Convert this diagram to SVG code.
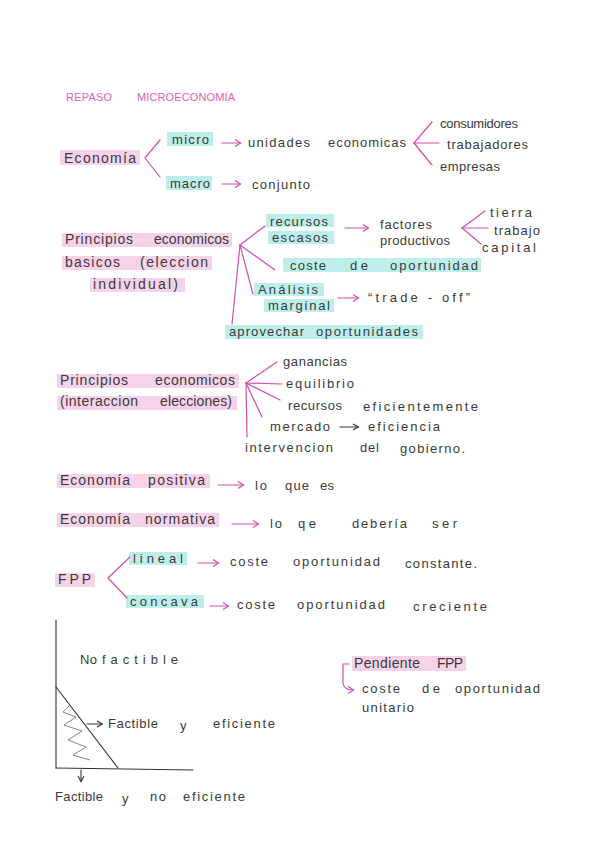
<svg xmlns="http://www.w3.org/2000/svg" width="600" height="848" viewBox="0 0 600 848">
<style>
text{font-family:"Liberation Sans","DejaVu Sans",sans-serif;font-size:13px;fill:#3a3a3a}
.t{fill:#e060b4;font-size:11px}
.big{font-size:14px}
.hp{fill:#f7d3ea}
.hc{fill:#bdeeea}
.pk{fill:none;stroke:#d64cb2;stroke-width:1.2;stroke-linecap:round;stroke-linejoin:round}
.bk{fill:none;stroke:#333;stroke-width:1.1;stroke-linecap:round}
.ar{marker-end:url(#ah)}
.arb{marker-end:url(#ahb)}
</style>
<defs>
<marker id="ah" markerWidth="8" markerHeight="8" refX="6" refY="4" orient="auto" markerUnits="userSpaceOnUse"><path d="M1,0.5 L6.5,4 L1,7.5" fill="none" stroke="#d64cb2" stroke-width="1.2"/></marker>
<marker id="ahb" markerWidth="8" markerHeight="8" refX="6" refY="4" orient="auto" markerUnits="userSpaceOnUse"><path d="M1,1 L6.5,4 L1,7" fill="none" stroke="#333" stroke-width="1.1"/></marker>
</defs>
<rect width="600" height="848" fill="#ffffff"/>

<g id="title">
<text class="t" x="66" y="101" textLength="46" lengthAdjust="spacing">REPASO</text>
<text class="t" x="137" y="101" textLength="98" lengthAdjust="spacing">MICROECONOMÍA</text>
</g>

<g id="highlights">
<rect class="hp" x="60" y="150" width="80" height="15"/>
<rect class="hc" x="167" y="132" width="46" height="14"/>
<rect class="hc" x="166" y="176" width="46" height="14"/>
<rect class="hp" x="62" y="233" width="170" height="14"/>
<rect class="hp" x="62" y="256" width="150" height="14"/>
<rect class="hp" x="90" y="278" width="95" height="14"/>
<rect class="hc" x="266" y="214" width="68" height="13"/>
<rect class="hc" x="268" y="231" width="66" height="13"/>
<rect class="hc" x="283" y="258" width="198" height="14"/>
<rect class="hc" x="254" y="283" width="70" height="13"/>
<rect class="hc" x="264" y="299" width="70" height="13"/>
<rect class="hc" x="225" y="325" width="198" height="14"/>
<rect class="hp" x="57" y="374" width="182" height="14"/>
<rect class="hp" x="57" y="396" width="180" height="14"/>
<rect class="hp" x="57" y="474" width="153" height="14"/>
<rect class="hp" x="57" y="513" width="162" height="14"/>
<rect class="hp" x="55" y="573" width="40" height="14"/>
<rect class="hc" x="129" y="552" width="58" height="13"/>
<rect class="hc" x="126" y="595" width="78" height="13"/>
<rect class="hp" x="352" y="656" width="114" height="15"/>
</g>

<g id="connectors">
<polyline class="pk" points="160,140 145,158 160,177"/>
<line class="pk ar" x1="222" y1="143" x2="240" y2="143"/>
<line class="pk ar" x1="222" y1="184" x2="240" y2="184"/>
<line class="pk" x1="414" y1="143" x2="432" y2="122"/>
<line class="pk" x1="414" y1="143" x2="439" y2="143"/>
<line class="pk" x1="414" y1="143" x2="432" y2="165"/>
<line class="pk" x1="240" y1="245" x2="265" y2="226"/>
<line class="pk" x1="240" y1="245" x2="275" y2="270"/>
<line class="pk" x1="240" y1="245" x2="253" y2="294"/>
<line class="pk" x1="240" y1="245" x2="232" y2="324"/>
<line class="pk ar" x1="345" y1="228" x2="368" y2="228"/>
<line class="pk" x1="462" y1="228" x2="485" y2="211"/>
<line class="pk" x1="462" y1="228" x2="488" y2="228"/>
<line class="pk" x1="462" y1="228" x2="481" y2="244"/>
<line class="pk ar" x1="338" y1="298" x2="358" y2="298"/>
<line class="pk" x1="246" y1="383" x2="277" y2="362"/>
<line class="pk" x1="246" y1="383" x2="282" y2="384"/>
<line class="pk" x1="246" y1="383" x2="280" y2="400"/>
<line class="pk" x1="246" y1="383" x2="262" y2="417"/>
<line class="pk" x1="246" y1="383" x2="247" y2="437"/>
<line class="bk arb" x1="340" y1="427" x2="358" y2="427"/>
<line class="pk ar" x1="218" y1="485" x2="243" y2="485"/>
<line class="pk ar" x1="232" y1="524" x2="258" y2="524"/>
<polyline class="pk" points="130,557 108,578 127,598"/>
<line class="pk ar" x1="198" y1="563" x2="218" y2="563"/>
<line class="pk ar" x1="210" y1="606" x2="228" y2="606"/>
<path class="pk ar" d="M349,664 L343,664 L343,683 Q344,690 353,690"/>
</g>

<g id="economia"><text class="big" x="64" y="163" textLength="72" lengthAdjust="spacing">Economía</text></g>
<g id="micro"><text x="172" y="144" textLength="37" lengthAdjust="spacing">micro</text></g>
<g id="unidades"><text x="248" y="147" textLength="62" lengthAdjust="spacing">unidades</text><text x="328" y="147" textLength="78" lengthAdjust="spacing">economicas</text></g>
<g id="consumidores"><text x="440" y="128" textLength="78" lengthAdjust="spacing">consumidores</text></g>
<g id="trabajadores"><text x="447" y="149" textLength="81" lengthAdjust="spacing">trabajadores</text></g>
<g id="empresas"><text x="440" y="171" textLength="60" lengthAdjust="spacing">empresas</text></g>
<g id="macro"><text x="170" y="188" textLength="40" lengthAdjust="spacing">macro</text></g>
<g id="conjunto"><text x="252" y="189" textLength="58" lengthAdjust="spacing">conjunto</text></g>

<g id="principios-basicos">
<text class="big" x="65" y="244" textLength="68" lengthAdjust="spacing">Principios</text>
<text class="big" x="154" y="244" textLength="75" lengthAdjust="spacing">economicos</text>
<text class="big" x="65" y="267" textLength="55" lengthAdjust="spacing">basicos</text>
<text class="big" x="140" y="267" textLength="68" lengthAdjust="spacing">(eleccion</text>
<text class="big" x="93" y="289" textLength="85" lengthAdjust="spacing">individual)</text>
</g>
<g id="recursos-escasos"><text x="270" y="226" textLength="58" lengthAdjust="spacing">recursos</text><text x="272" y="242" textLength="56" lengthAdjust="spacing">escasos</text></g>
<g id="factores"><text x="380" y="229" textLength="52" lengthAdjust="spacing">factores</text><text x="380" y="245" textLength="70" lengthAdjust="spacing">productivos</text></g>
<g id="tierra"><text x="490" y="217" textLength="42" lengthAdjust="spacing">tierra</text></g>
<g id="trabajo"><text x="494" y="235" textLength="46" lengthAdjust="spacing">trabajo</text></g>
<g id="capital"><text x="482" y="252" textLength="54" lengthAdjust="spacing">capital</text></g>
<g id="coste-oportunidad"><text x="290" y="270" textLength="36" lengthAdjust="spacing">coste</text><text x="350" y="270" textLength="18" lengthAdjust="spacing">de</text><text x="390" y="270" textLength="88" lengthAdjust="spacing">oportunidad</text></g>
<g id="analisis"><text x="258" y="294" textLength="60" lengthAdjust="spacing">Análisis</text><text x="268" y="310" textLength="62" lengthAdjust="spacing">marginal</text></g>
<g id="tradeoff"><text x="368" y="302" textLength="102" lengthAdjust="spacing">“trade - off”</text></g>
<g id="aprovechar"><text x="229" y="336" textLength="75" lengthAdjust="spacing">aprovechar</text><text x="316" y="336" textLength="102" lengthAdjust="spacing">oportunidades</text></g>

<g id="principios-interaccion">
<text class="big" x="60" y="385" textLength="68" lengthAdjust="spacing">Principios</text>
<text class="big" x="155" y="385" textLength="80" lengthAdjust="spacing">economicos</text>
<text class="big" x="60" y="406" textLength="78" lengthAdjust="spacing">(interaccion</text>
<text class="big" x="160" y="406" textLength="72" lengthAdjust="spacing">elecciones)</text>
</g>
<g id="ganancias"><text x="283" y="366" textLength="64" lengthAdjust="spacing">ganancias</text></g>
<g id="equilibrio"><text x="286" y="388" textLength="68" lengthAdjust="spacing">equilibrio</text></g>
<g id="recursos-eficientemente"><text x="288" y="410" textLength="54" lengthAdjust="spacing">recursos</text><text x="363" y="411" textLength="115" lengthAdjust="spacing">eficientemente</text></g>
<g id="mercado"><text x="270" y="431" textLength="60" lengthAdjust="spacing">mercado</text><text x="368" y="431" textLength="72" lengthAdjust="spacing">eficiencia</text></g>
<g id="intervencion"><text x="245" y="452" textLength="88" lengthAdjust="spacing">intervencion</text><text x="360" y="452" textLength="19" lengthAdjust="spacing">del</text><text x="400" y="453" textLength="65" lengthAdjust="spacing">gobierno.</text></g>

<g id="positiva"><text class="big" x="60" y="485" textLength="70" lengthAdjust="spacing">Economía</text><text class="big" x="148" y="485" textLength="57" lengthAdjust="spacing">positiva</text></g>
<g id="lo-que-es"><text x="255" y="490" textLength="12" lengthAdjust="spacing">lo</text><text x="285" y="490" textLength="24" lengthAdjust="spacing">que</text><text x="320" y="490" textLength="14" lengthAdjust="spacing">es</text></g>
<g id="normativa"><text class="big" x="60" y="524" textLength="70" lengthAdjust="spacing">Economía</text><text class="big" x="145" y="524" textLength="70" lengthAdjust="spacing">normativa</text></g>
<g id="deberia"><text x="270" y="528" textLength="12" lengthAdjust="spacing">lo</text><text x="298" y="528" textLength="18" lengthAdjust="spacing">qe</text><text x="352" y="528" textLength="55" lengthAdjust="spacing">debería</text><text x="432" y="528" textLength="25" lengthAdjust="spacing">ser</text></g>

<g id="fpp"><text class="big" x="58" y="584" textLength="33" lengthAdjust="spacing">FPP</text></g>
<g id="lineal"><text x="133" y="563" textLength="50" lengthAdjust="spacing">lineal</text></g>
<g id="constante"><text x="230" y="566" textLength="38" lengthAdjust="spacing">coste</text><text x="293" y="566" textLength="87" lengthAdjust="spacing">oportunidad</text><text x="405" y="568" textLength="72" lengthAdjust="spacing">constante.</text></g>
<g id="concava"><text x="130" y="606" textLength="68" lengthAdjust="spacing">concava</text></g>
<g id="creciente"><text x="237" y="609" textLength="38" lengthAdjust="spacing">coste</text><text x="297" y="609" textLength="88" lengthAdjust="spacing">oportunidad</text><text x="413" y="611" textLength="74" lengthAdjust="spacing">creciente</text></g>

<g id="grafico">
<line class="bk" x1="56" y1="620" x2="56" y2="768"/>
<line class="bk" x1="56" y1="768" x2="193" y2="770"/>
<line class="bk" x1="56" y1="687" x2="118" y2="768"/>
<polyline fill="none" stroke="#777" stroke-width="0.9" points="70,705 63,712 76,717 64,725 82,731 68,740 86,747 73,755 90,760"/>
<line class="bk arb" x1="87" y1="724" x2="102" y2="724"/>
<line class="bk arb" x1="81" y1="770" x2="81" y2="781"/>
<text x="80" y="664" textLength="17" lengthAdjust="spacing">No</text><text x="102" y="664" textLength="76" lengthAdjust="spacing">factible</text>
<text x="108" y="728" textLength="50" lengthAdjust="spacing">Factible</text><text x="180" y="730">y</text><text x="213" y="728" textLength="62" lengthAdjust="spacing">eficiente</text>
<text x="55" y="801" textLength="48" lengthAdjust="spacing">Factible</text><text x="122" y="803">y</text><text x="150" y="801" textLength="16" lengthAdjust="spacing">no</text><text x="183" y="801" textLength="62" lengthAdjust="spacing">eficiente</text>
</g>

<g id="pendiente"><text class="big" x="354" y="668" textLength="66" lengthAdjust="spacing">Pendiente</text><text class="big" x="437" y="668" textLength="26" lengthAdjust="spacing">FPP</text></g>
<g id="unitario"><text x="362" y="693" textLength="38" lengthAdjust="spacing">coste</text><text x="422" y="693" textLength="18" lengthAdjust="spacing">de</text><text x="455" y="693" textLength="85" lengthAdjust="spacing">oportunidad</text><text x="362" y="712" textLength="52" lengthAdjust="spacing">unitario</text></g>
</svg>
